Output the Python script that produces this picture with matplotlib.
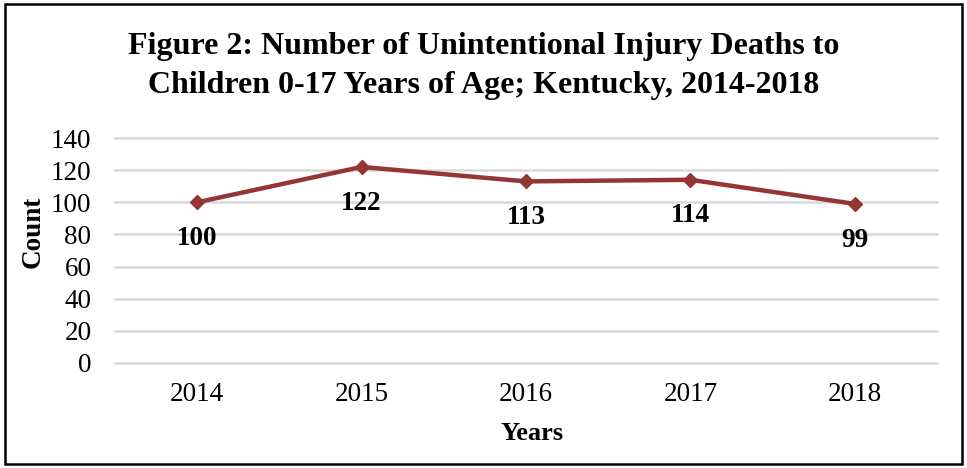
import matplotlib
matplotlib.use("Agg")
import matplotlib.pyplot as plt
from matplotlib.patches import Rectangle

years = ["2014", "2015", "2016", "2017", "2018"]
deaths = [100, 122, 113, 114, 99]
y_ticks = [0, 20, 40, 60, 80, 100, 120, 140]

LINE_COLOR = "#943634"
GRID_COLOR = "#d9d9d9"

plt.rcParams["font.family"] = ["Liberation Serif", "DejaVu Serif"]

W, H = 967, 468
fig = plt.figure(figsize=(W / 100, H / 100), dpi=100)
ax = fig.add_axes([115 / W, (H - 363) / H, (937 - 115) / W, (363 - 138) / H])

x = list(range(len(years)))
ax.plot(x, deaths, color=LINE_COLOR, linewidth=3.2, marker="D", markersize=7,
        markerfacecolor=LINE_COLOR, markeredgecolor=LINE_COLOR, zorder=3)

for xi, v in zip(x, deaths):
    ax.annotate(str(v), xy=(xi, v), xytext=(0, -26), textcoords="offset points",
                ha="center", va="center", fontsize=19.5, fontweight="bold")

ax.set_xlim(-0.5, len(years) - 0.5)
ax.set_ylim(0, 140)
ax.set_yticks(y_ticks)
ax.set_xticks(x)
ax.set_xticklabels(years)
ax.tick_params(axis="both", length=0, labelsize=19.5)
ax.tick_params(axis="y", pad=17)
ax.tick_params(axis="x", pad=14)
ax.yaxis.grid(True, color=GRID_COLOR, linewidth=1.8)
for gl in ax.yaxis.get_gridlines():
    gl.set_clip_on(False)
ax.set_axisbelow(True)
for s in ax.spines.values():
    s.set_visible(False)

fig.text(484 / W, 1 - 66 / H, "Figure 2: Number of Unintentional Injury Deaths to\nChildren 0-17 Years of Age; Kentucky, 2014-2018",
         ha="center", va="center", fontsize=23, fontweight="bold", linespacing=1.45)
fig.text(33 / W, 1 - 232 / H, "Count", rotation=90, ha="center", va="center",
         fontsize=19.5, fontweight="bold")
fig.text(532 / W, 1 - 433 / H, "Years", ha="center", va="center",
         fontsize=19, fontweight="bold")

fig.add_artist(Rectangle((5 / W, 4 / H), (962 - 5) / W, (464 - 4) / H,
                         transform=fig.transFigure, fill=False,
                         edgecolor="black", linewidth=1.8))

fig.savefig("out.png", dpi=100)
